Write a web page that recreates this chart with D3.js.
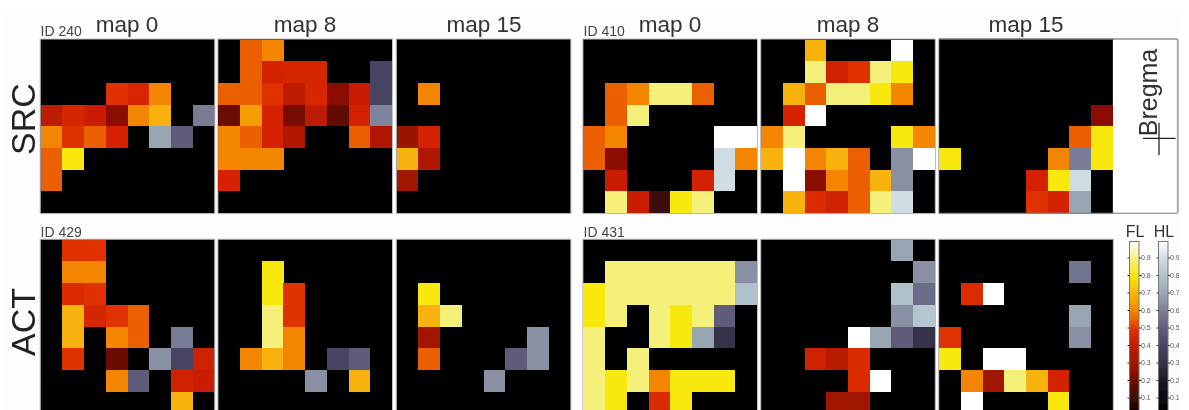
<!DOCTYPE html>
<html>
<head>
<meta charset="utf-8">
<script src="https://cdnjs.cloudflare.com/ajax/libs/d3/7.8.5/d3.min.js"></script>
<style>
html,body{margin:0;padding:0;background:#fff;overflow:hidden}
svg{display:block}
text{font-family:"Liberation Sans",Arial,sans-serif}
</style>
</head>
<body>
<svg id="c" width="1189" height="410"></svg>
<script>
// Values: 0 = no signal, positive = FL, negative = HL
const id240map0 = [
 [0,0,0,0,0,0,0,0],
 [0,0,0,0,0,0,0,0],
 [0,0,0,.5,.46,.6,0,0],
 [.38,.46,.42,.25,.6,.7,0,-.6],
 [.6,.5,.55,.45,0,-.7,-.5,0],
 [.55,.8,0,0,0,0,0,0],
 [.55,0,0,0,0,0,0,0],
 [0,0,0,0,0,0,0,0]];
const id240map8 = [
 [0,.55,.6,0,0,0,0,0],
 [0,.55,.45,.46,.46,0,0,-.4],
 [.55,.55,.5,.38,.46,.25,.42,-.4],
 [.2,.65,.45,.22,.38,.18,.45,-.62],
 [.6,.55,.45,.35,0,0,.55,.35],
 [.6,.6,.6,0,0,0,0,0],
 [.45,0,0,0,0,0,0,0],
 [0,0,0,0,0,0,0,0]];
const id240map15 = [
 [0,0,0,0,0,0,0,0],
 [0,0,0,0,0,0,0,0],
 [0,.6,0,0,0,0,0,0],
 [0,0,0,0,0,0,0,0],
 [.28,.45,0,0,0,0,0,0],
 [.7,.35,0,0,0,0,0,0],
 [.3,0,0,0,0,0,0,0],
 [0,0,0,0,0,0,0,0]];
const id410map0 = [
 [0,0,0,0,0,0,0,0],
 [0,0,0,0,0,0,0,0],
 [0,.55,.6,.9,.9,.55,0,0],
 [0,.55,.9,0,0,0,0,0],
 [.55,.6,0,0,0,0,-1,-1],
 [.55,.25,0,0,0,0,-.9,.6],
 [0,.42,0,0,0,.45,-.9,0],
 [0,.9,.42,.1,.8,.9,0,0]];
const id410map8 = [
 [0,0,.7,0,0,0,-1,0],
 [0,0,.9,.43,.5,.9,.8,0],
 [0,.7,.55,.9,.9,.8,.6,0],
 [0,.45,1,0,0,0,0,0],
 [.6,.9,0,0,0,0,.8,.6],
 [.7,1,.6,.7,.55,0,-.65,-1],
 [0,1,.25,.6,.55,.7,-.65,0],
 [0,.7,.47,.43,.55,.9,-.9,0]];
const id410map15 = [
 [0,0,0,0,0,0,0,0],
 [0,0,0,0,0,0,0,0],
 [0,0,0,0,0,0,0,0],
 [0,0,0,0,0,0,0,.25],
 [0,0,0,0,0,0,.55,.8],
 [.8,0,0,0,0,.6,-.6,.8],
 [0,0,0,0,.45,.8,-.9,0],
 [0,0,0,0,.5,.45,-.7,0]];
const id429map0 = [
 [0,.5,.5,0,0,0,0,0],
 [0,.6,.6,0,0,0,0,0],
 [0,.47,.5,0,0,0,0,0],
 [0,.7,.46,.5,.55,0,0,0],
 [0,.7,0,.6,.55,0,-.6,0],
 [0,.5,0,.2,0,-.65,-.4,.43],
 [0,0,0,.6,-.5,0,.44,.42],
 [0,0,0,0,0,0,.7,0]];
const id429map8 = [
 [0,0,0,0,0,0,0,0],
 [0,0,.8,0,0,0,0,0],
 [0,0,.8,.5,0,0,0,0],
 [0,0,.9,.5,0,0,0,0],
 [0,0,.9,.6,0,0,0,0],
 [0,.6,.7,.6,0,-.4,-.5,0],
 [0,0,0,0,-.65,0,.7,0],
 [0,0,0,0,0,0,0,0]];
const id429map15 = [
 [0,0,0,0,0,0,0,0],
 [0,0,0,0,0,0,0,0],
 [0,.8,0,0,0,0,0,0],
 [0,.7,.9,0,0,0,0,0],
 [0,.3,0,0,0,0,-.65,0],
 [0,.55,0,0,0,-.5,-.65,0],
 [0,0,0,0,-.65,0,0,0],
 [0,0,0,0,0,0,0,0]];
const id431map0 = [
 [0,0,0,0,0,0,0,0],
 [0,.9,.9,.9,.9,.9,.9,-.65],
 [.8,.9,.9,.9,.9,.9,.9,-.8],
 [.8,.9,0,.9,.8,.9,-.5,0],
 [.9,0,0,.9,.8,-.7,-.3,0],
 [.9,0,.9,0,0,0,0,0],
 [.9,.8,.9,.6,.8,.8,.8,0],
 [.9,.8,0,.47,.8,0,0,0]];
const id431map8 = [
 [0,0,0,0,0,0,-.7,0],
 [0,0,0,0,0,0,0,-.65],
 [0,0,0,0,0,0,-.8,-.55],
 [0,0,0,0,0,0,-.65,-.82],
 [0,0,0,0,1,-.7,-.5,-.3],
 [0,0,.43,.37,.47,0,0,0],
 [0,0,0,0,.47,1,0,0],
 [0,0,0,.3,.3,0,0,0]];
const id431map15 = [
 [0,0,0,0,0,0,0,0],
 [0,0,0,0,0,0,-.58,0],
 [0,.47,1,0,0,0,0,0],
 [0,0,0,0,0,0,-.7,0],
 [.5,0,0,0,0,0,-.65,0],
 [.8,0,1,1,0,0,0,0],
 [0,.6,.3,.9,.7,.45,0,0],
 [0,1,0,0,0,.8,0,0]];

const panelTitles = ["map 0","map 8","map 15","map 0","map 8","map 15"];
const animalIds = ["ID 240","ID 410","ID 429","ID 431"];
const rowLabels = ["SRC","ACT"];
const colorbarNames = ["FL","HL"];
const colorbarTicks = [.1,.2,.3,.4,.5,.6,.7,.8,.9];

const flStops = [0,.1,.2,.25,.3,.35,.4,.45,.5,.55,.6,.7,.8,.9,1];
const flColors = ["#000000","#3a0808","#6a0a00","#8b1000","#a01500","#b01800","#c41c00","#d42200","#e03300","#ea6000","#f38500","#f8b208","#f8e80e","#f5f07a","#ffffff"];
const hlStops = [0,.1,.2,.3,.4,.5,.6,.65,.7,.8,.9,1];
const hlColors = ["#000000","#0a0a0c","#1a1a24","#343248","#474462","#5f5c7a","#787b95","#8a90a4","#98a5b2","#afc2c9","#cfdce2","#ffffff"];

const flScale = d3.scaleLinear().domain(flStops).range(flColors);
const hlScale = d3.scaleLinear().domain(hlStops).range(hlColors);
const cellColor = v => v === 0 ? "#000" : (v > 0 ? flScale(v) : hlScale(-v));

const svg = d3.select("#c");
const defs = svg.append("defs");
defs.append("filter").attr("id","soft").attr("x","-2%").attr("y","-2%").attr("width","104%").attr("height","104%")
  .append("feGaussianBlur").attr("stdDeviation",0.6);
defs.append("clipPath").attr("id","page").append("rect").attr("width",1179).attr("height",410);

const root = svg.append("g").attr("filter","url(#soft)");
root.append("rect").attr("x",6).attr("y",12).attr("width",1173).attr("height",398).attr("fill","#fdfdfd");

const SIZE = 173.6;
const xs = [40.7,218.4,396.8,583.4,761.2,939.2];
const ys = [39.5,239.7];
const panels = [
 [id240map0,id240map8,id240map15,id410map0,id410map8,id410map15],
 [id429map0,id429map8,id429map15,id431map0,id431map8,id431map15]];
const band = d3.scaleBand().domain(d3.range(8)).range([0,SIZE]);

panels.forEach((row,ri)=>row.forEach((m,pi)=>{
  const g = root.append("g").attr("transform",`translate(${xs[pi]},${ys[ri]})`);
  g.append("rect").attr("x",-.5).attr("y",-.5).attr("width",SIZE+1).attr("height",SIZE+1)
    .attr("fill","#000").attr("stroke","#c0c0c0").attr("stroke-width",1);
  g.selectAll("rect.cell")
    .data(m.flatMap((r,y)=>r.map((v,x)=>({x,y,v}))).filter(d=>d.v!==0))
    .join("rect").attr("class","cell")
    .attr("x",d=>band(d.x)).attr("y",d=>band(d.y))
    .attr("width",band.bandwidth()).attr("height",band.bandwidth())
    .attr("shape-rendering","crispEdges")
    .attr("fill",d=>cellColor(d.v));
}));

// Bregma box
const bx = 1113, by = 39.3, bw = 64.8, bh = 173.6;
root.append("rect").attr("x",bx).attr("y",by).attr("width",bw).attr("height",bh)
  .attr("fill","#fff");
root.append("line").attr("x1",939).attr("x2",bx+bw).attr("y1",by-.3).attr("y2",by-.3).attr("stroke","#555").attr("stroke-width",1);
root.append("line").attr("x1",939).attr("x2",bx+bw).attr("y1",by+bh+.3).attr("y2",by+bh+.3).attr("stroke","#777").attr("stroke-width",1);
root.append("line").attr("x1",bx+bw).attr("x2",bx+bw).attr("y1",by).attr("y2",by+bh).attr("stroke","#aaa").attr("stroke-width",2);
root.append("text").attr("transform","translate(1156.5,92.5) rotate(-90)")
  .attr("text-anchor","middle").attr("font-size",25).attr("fill","#333").text("Bregma");
root.append("line").attr("x1",1143).attr("x2",1175.5).attr("y1",138.3).attr("y2",138.3).attr("stroke","#222").attr("stroke-width",1.3);
root.append("line").attr("x1",1159).attr("x2",1159).attr("y1",123).attr("y2",155).attr("stroke","#222").attr("stroke-width",1.3);

// Titles
const titleX = [127,305,484,670,848,1026];
panelTitles.forEach((t,i)=>root.append("text").attr("x",titleX[i]).attr("y",32)
  .attr("text-anchor","middle").attr("font-size",22.5).attr("fill","#333").text(t));
[[40.5,36],[583.5,36],[40.5,236.5],[583.5,236.5]].forEach((p,i)=>
  root.append("text").attr("x",p[0]).attr("y",p[1]).attr("font-size",14).attr("fill","#444").text(animalIds[i]));
[[35,119],[35,322]].forEach((p,i)=>
  root.append("text").attr("transform",`translate(${p[0]},${p[1]}) rotate(-90)`)
   .attr("text-anchor","middle").attr("font-size",34).attr("fill","#222").text(rowLabels[i]));

// Colour bars
const barY = d3.scaleLinear().domain([0,1]).range([415,240]);
const bars = [{x:1129.5,s:flScale,stops:flStops},{x:1158.5,s:hlScale,stops:hlStops}];
const cb = root.append("g").attr("clip-path","url(#page)");
bars.forEach((b,i)=>{
  const grad = defs.append("linearGradient").attr("id","g"+i)
    .attr("x1",0).attr("x2",0).attr("y1",1).attr("y2",0);
  b.stops.forEach(v=>grad.append("stop").attr("offset",v).attr("stop-color",b.s(v)));
  cb.append("rect").attr("x",b.x).attr("y",barY(1)+1.5).attr("width",9.5).attr("height",barY(0)-barY(1))
    .attr("fill",`url(#g${i})`).attr("stroke","#777").attr("stroke-width",1);
  const right = d3.axisRight(barY).tickValues(colorbarTicks).tickSize(2).tickPadding(0).tickFormat(d3.format(".1f"));
  const left = d3.axisLeft(barY).tickValues(colorbarTicks).tickSize(2).tickFormat("");
  const a = cb.append("g").attr("transform",`translate(${b.x+9.5},0)`).call(right);
  a.select(".domain").remove();
  a.selectAll("line").attr("stroke","#333");
  a.selectAll("text").attr("font-size",7).attr("fill","#555").attr("font-family",'"Liberation Sans"');
  const l = cb.append("g").attr("transform",`translate(${b.x},0)`).call(left);
  l.select(".domain").remove();
  l.selectAll("line").attr("stroke","#333");
  root.append("text").attr("x",b.x+5.5).attr("y",236.7).attr("text-anchor","middle")
    .attr("font-size",16).attr("fill","#333").text(colorbarNames[i]);
});
</script>
</body>
</html>
